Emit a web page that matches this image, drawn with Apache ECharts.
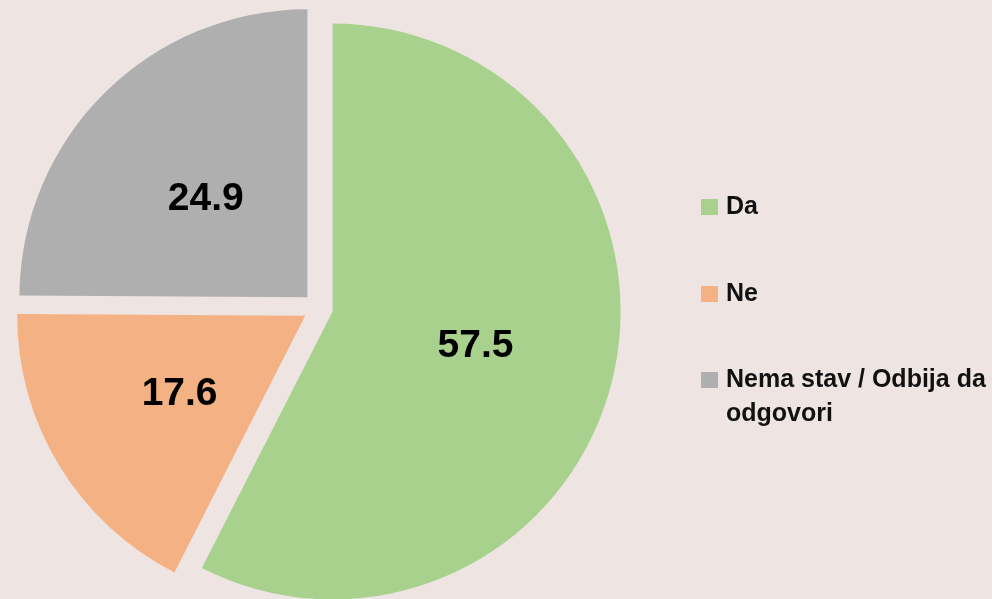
<!DOCTYPE html>
<html>
<head>
<meta charset="utf-8">
<script src="https://cdn.jsdelivr.net/npm/echarts@6/dist/echarts.min.js"></script>
<style>
html,body{margin:0;padding:0;background:#EEE4E2;}
#c{width:992px;height:599px;}
</style>
</head>
<body>
<div id="c"></div>
<script>
var categories = ['Da', 'Ne', 'Nema stav / Odbija da odgovori'];
var values = [57.5, 17.6, 24.9];
var colors = ['#A9D18E', '#F4B183', '#AFAFAF'];

var chart = echarts.init(document.getElementById('c'));
var legendText = {
  fontFamily: 'Liberation Sans, Arial, sans-serif',
  fontWeight: 'bold',
  fontSize: 25,
  color: '#111111',
  lineHeight: 34
};
chart.setOption({
  backgroundColor: '#EEE4E2',
  animation: false,
  legend: [{
    orient: 'vertical',
    left: 701,
    top: 190,
    padding: 0,
    itemWidth: 20,
    itemHeight: 16,
    itemGap: 53,
    icon: 'path://M0,0L17,0L17,16L0,16Z M20,0L20,16L20,8Z',
    selectedMode: false,
    data: [categories[0], categories[1]],
    textStyle: legendText
  }, {
    orient: 'vertical',
    left: 701,
    top: 363,
    padding: 0,
    itemWidth: 20,
    itemHeight: 50,
    icon: 'path://M0,0L17,0L17,16L0,16Z M0,50L20,50L0,50Z',
    selectedMode: false,
    data: [categories[2]],
    formatter: function (n) { return 'Nema stav / Odbija da\nodgovori'; },
    textStyle: legendText
  }],
  series: [{
    type: 'pie',
    center: [318, 308],
    radius: [0, 288],
    startAngle: 90,
    clockwise: true,
    selectedMode: 'multiple',
    selectedOffset: 15,
    avoidLabelOverlap: false,
    label: {
      show: true,
      position: 'inside',
      formatter: function (p) { return p.value.toFixed(1); },
      fontFamily: 'Liberation Sans, Arial, sans-serif',
      fontWeight: 'bold',
      fontSize: 39,
      color: '#000000'
    },
    labelLayout: function (p) {
      if (p.dataIndex === 2) { return {dx: 2, dy: 6}; }
      if (p.dataIndex === 1) { return {dy: 2}; }
      return {};
    },
    labelLine: {show: false},
    itemStyle: {borderWidth: 0},
    emphasis: {disabled: true},
    data: categories.map(function (c, i) {
      return {name: c, value: values[i], selected: true, itemStyle: {color: colors[i]}, select: {itemStyle: {color: colors[i]}}};
    })
  }]
});
</script>
</body>
</html>
